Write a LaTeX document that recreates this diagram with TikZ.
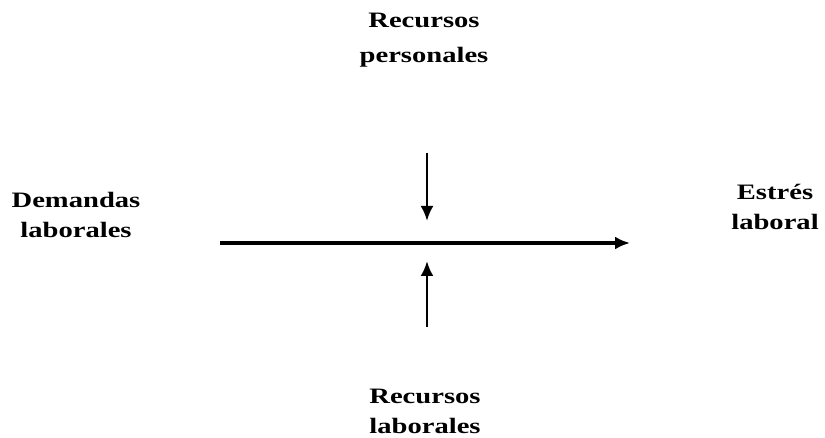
\documentclass[tikz,border=0pt]{standalone}
\usepackage{fontspec}
\setmainfont{Liberation Serif}
\usetikzlibrary{arrows.meta}

\begin{document}
\begin{tikzpicture}[line cap=butt,line join=miter,>={Latex[length=7.5pt,width=6.5pt]},
x=0.5pt,y=-0.5pt,
etiqueta/.style={align=center,inner sep=0pt,anchor=base,
font=\fontsize{11}{15}\selectfont\bfseries},
flecha/.style={->,line width=1.6pt}]
\useasboundingbox (0,0) rectangle (825,438);
% Textos
\node[etiqueta] (recpers) at (424,63) {\scalebox{1.3}[1]{Recursos}\\[2.5pt]\scalebox{1.3}[1]{personales}};
\node[etiqueta] (demandas) at (76,238) {\scalebox{1.3}[1]{Demandas}\\\scalebox{1.3}[1]{laborales}};
\node[etiqueta] (estres) at (775,230) {\scalebox{1.3}[1]{Estrés}\\\scalebox{1.3}[1]{laboral}};
\node[etiqueta] (reclab) at (425,433) {\scalebox{1.3}[1]{Recursos}\\\scalebox{1.3}[1]{laborales}};
% Flechas
\coordinate (ini) at (220,243);
\coordinate (fin) at (630,243);
\coordinate (arriba) at (427,153);
\coordinate (arribafin) at (427,221);
\coordinate (abajo) at (427,327);
\coordinate (abajofin) at (427,261);
\draw[flecha] (ini) -- (fin);
\draw[flecha,line width=1.4pt] (arriba) -- (arribafin);
\draw[flecha,line width=1.4pt] (abajo) -- (abajofin);
\end{tikzpicture}
\end{document}
